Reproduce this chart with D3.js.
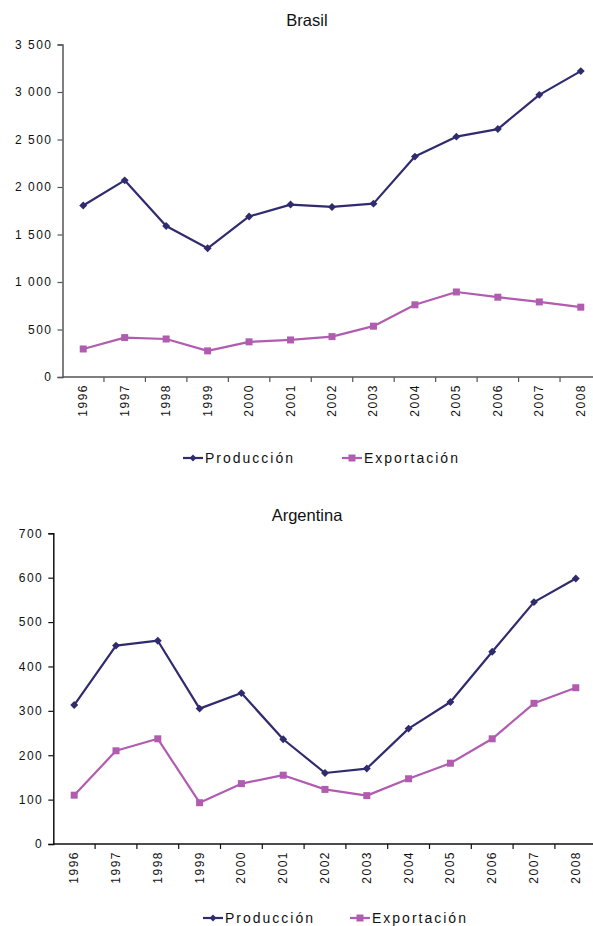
<!DOCTYPE html>
<html><head><meta charset="utf-8">
<script src="https://cdn.jsdelivr.net/npm/d3@7"></script>
<style>
body{margin:0;background:#fff;}
svg text{font-family:"Liberation Sans",Arial,sans-serif;fill:#111;}
</style></head>
<body><svg id="c" width="593" height="926"></svg>
<script>
const years = ["1996","1997","1998","1999","2000","2001","2002","2003","2004","2005","2006","2007","2008"];
const brasilProduccion = [1805,2070,1590,1355,1690,1815,1790,1825,2320,2530,2610,2970,3220];
const brasilExportacion = [295,415,400,275,370,390,425,535,760,895,840,790,735];
const argProduccion = [313,447,458,305,340,236,160,170,260,320,433,545,598];
const argExportacion = [110,210,237,93,136,155,123,109,147,182,237,317,352];
const brasilTicks = [0,500,1000,1500,2000,2500,3000,3500];
const argTicks = [0,100,200,300,400,500,600,700];
const seriesNames = ["Producción","Exportación"];
const colors = ["#2f2b6e","#b05db0"];

const svg = d3.select("#c");
const fmt = v => d3.format(",")(v).replace(/,/g," ");

function chart(cfg){
  const g = svg.append("g");
  const x = d3.scaleBand().domain(years).range([cfg.x0, cfg.x1]).paddingInner(0).paddingOuter(0);
  const y = d3.scaleLinear().domain([0, cfg.max]).range([cfg.yb, cfg.yt]);
  g.append("text").attr("x",307).attr("y",cfg.titleY).attr("text-anchor","middle")
    .style("font-size","16.5px").text(cfg.title);
  const ya = g.append("g").attr("transform",`translate(${cfg.x0},0)`)
    .call(d3.axisLeft(y).tickValues(cfg.ticks).tickSize(5).tickPadding(5).tickFormat(fmt));
  ya.select(".domain").attr("stroke",cfg.axisColor).attr("stroke-width",1.5);
  ya.selectAll(".tick line").attr("stroke",cfg.axisColor).attr("stroke-width",1.2);
  ya.selectAll("text").style("font-size","12px").style("letter-spacing","1.5px").attr("fill","#111");
  const xa = g.append("g").attr("transform",`translate(0,${cfg.yb})`);
  xa.append("line").attr("x1",cfg.x0).attr("x2",cfg.x1).attr("stroke",cfg.axisColor).attr("stroke-width",1.5);
  xa.selectAll("line.tk").data(years).enter().append("line").attr("class","tk")
    .attr("x1",d=>x(d)+x.step()).attr("x2",d=>x(d)+x.step())
    .attr("y1",0).attr("y2",5).attr("stroke",cfg.axisColor).attr("stroke-width",1.2);
  xa.selectAll("text").data(years).enter().append("text")
    .attr("transform",d=>`translate(${x(d)+x.bandwidth()/2+4},7) rotate(-90)`)
    .attr("text-anchor","end").style("font-size","12px").style("letter-spacing","1.5px")
    .text(d=>d);
  const data = [cfg.p, cfg.e];
  const line = d3.line().x((d,i)=>x(years[i])+x.bandwidth()/2).y(d=>y(d));
  data.forEach((s,k)=>{
    g.append("path").datum(s).attr("d",line).attr("fill","none")
      .attr("stroke",colors[k]).attr("stroke-width",2.2).attr("stroke-linejoin","round");
  });
  g.selectAll("path.dia").data(cfg.p).enter().append("path").attr("class","dia")
    .attr("d",d3.symbol(d3.symbolDiamond2 || d3.symbolDiamond, 40))
    .attr("transform",(d,i)=>`translate(${x(years[i])+x.bandwidth()/2},${y(d)})`)
    .attr("fill",colors[0]);
  g.selectAll("rect.sq").data(cfg.e).enter().append("rect").attr("class","sq")
    .attr("x",(d,i)=>x(years[i])+x.bandwidth()/2-3.5).attr("y",d=>y(d)-3.5)
    .attr("width",7).attr("height",7).attr("fill",colors[1]);
  const lg = g.append("g");
  cfg.legend.forEach((lx,k)=>{
    lg.append("line").attr("x1",lx).attr("x2",lx+20).attr("y1",cfg.legendY).attr("y2",cfg.legendY)
      .attr("stroke",colors[k]).attr("stroke-width",2.2);
    if(k===0){
      lg.append("path").attr("d",d3.symbol(d3.symbolDiamond2 || d3.symbolDiamond,30))
        .attr("transform",`translate(${lx+10},${cfg.legendY})`).attr("fill",colors[0]);
    } else {
      lg.append("rect").attr("x",lx+6.5).attr("y",cfg.legendY-3.5).attr("width",7).attr("height",7).attr("fill",colors[1]);
    }
    lg.append("text").attr("x",lx+22).attr("y",cfg.legendY+5).style("font-size","14px")
      .style("letter-spacing","2px").text(seriesNames[k]);
  });
}

chart({title:"Brasil",titleY:26,x0:62.5,x1:601.5,yb:377,yt:44.5,max:3500,ticks:brasilTicks,
  p:brasilProduccion,e:brasilExportacion,axisColor:"#555",legendY:458,legend:[183,342]});
chart({title:"Argentina",titleY:521,x0:53.3,x1:596.7,yb:844,yt:533.3,max:700,ticks:argTicks,
  p:argProduccion,e:argExportacion,axisColor:"#111",legendY:918,legend:[203,350]});
</script></body></html>
